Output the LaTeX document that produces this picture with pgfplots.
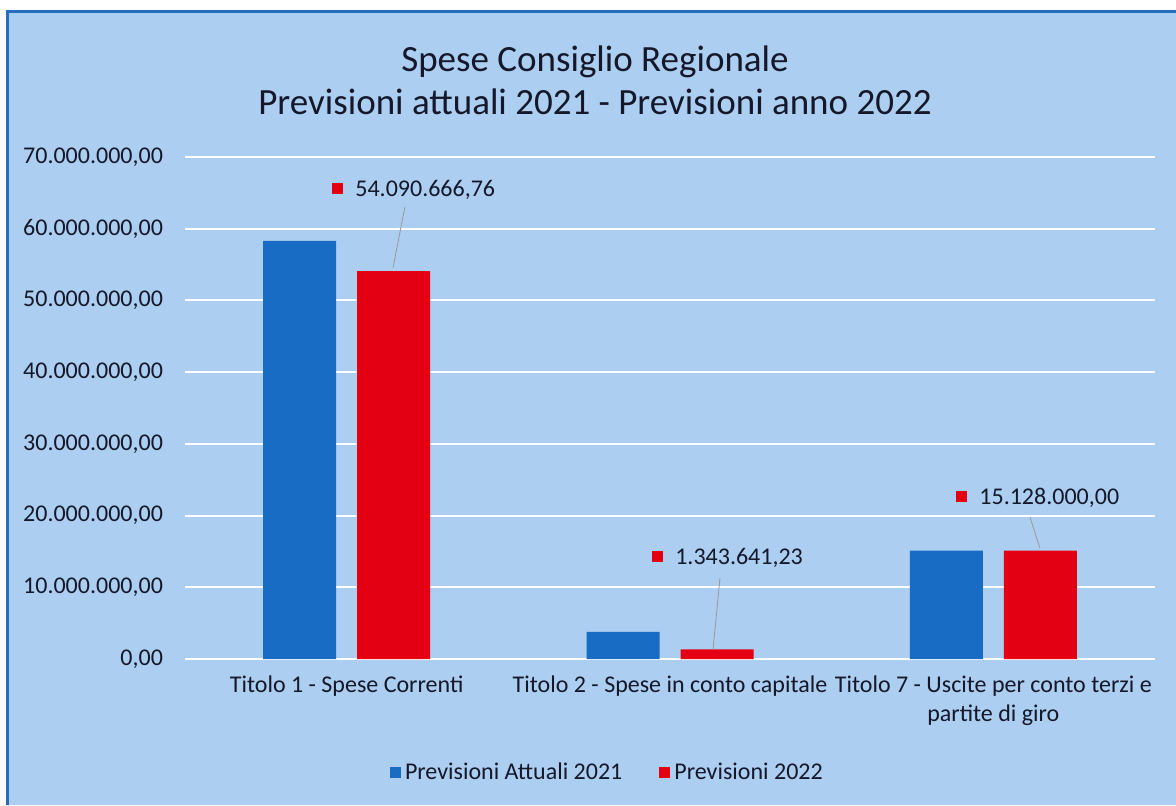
\documentclass[border=0pt]{standalone}
\usepackage{fontspec}
\setmainfont{Carlito}
\usepackage{pgfplots}
\pgfplotsset{compat=1.18}
\definecolor{bgblue}{RGB}{172,206,240}
\definecolor{frameblue}{RGB}{40,110,190}
\definecolor{barblue}{RGB}{24,108,196}
\definecolor{barred}{RGB}{228,0,18}
\definecolor{txt}{RGB}{20,24,42}
\newcommand{\rsq}{\textcolor{barred}{\rule[0.1em]{5.5pt}{5.5pt}}}
\begin{document}
\begin{tikzpicture}
\fill[white] (-92.5pt,-73pt) rectangle (495.5pt,329.5pt);
\fill[bgblue] (-89.5pt,-73pt) rectangle (495.5pt,324.5pt);
\draw[frameblue, line width=1.5pt] (-88.75pt,-73pt) -- (-88.75pt,323.75pt) -- (495.5pt,323.75pt);
\node[font=\fontsize{18.5}{21.5}\selectfont, align=center, text=txt] at (205pt,289.25pt)
  {Spese Consiglio Regionale\\Previsioni attuali 2021 - Previsioni anno 2022};
\begin{axis}[
  at={(0,0)}, anchor=south west,
  scale only axis, width=485pt, height=251pt,
  ybar=10.5pt, bar width=36.5pt,
  ymin=0, ymax=7e7, ytick={0,1e7,2e7,3e7,4e7,5e7,6e7,7e7},
  xmin=-0.5, xmax=2.5,
  xtick={0,1,2},
  xticklabels={Titolo 1 - Spese Correnti, Titolo 2 - Spese in conto capitale, {Titolo 7 - Uscite per conto terzi e\\partite di giro}},
  xticklabel style={align=center, font=\fontsize{12}{14.5}\selectfont, text=txt, yshift=-5pt},
  yticklabel style={font=\fontsize{12}{14}\selectfont, text=txt, xshift=-7.5pt},
  scaled y ticks=false,
  yticklabel={\pgfmathprintnumber[fixed, fixed zerofill, precision=2, use comma, 1000 sep={.}, assume math mode=true]{\tick}},
  axis line style={draw=none},
  major tick length=0pt,
  ymajorgrids, major grid style={white, line width=1pt},
  legend style={at={(0.4365,-0.227)}, anchor=center, legend columns=2, draw=none, fill=none,
    font=\fontsize{12}{14}\selectfont, text=txt,
    /tikz/every even column/.append style={column sep=16.5pt}},
  clip=false,
]
\addplot[fill=barblue, draw=none, legend image code/.code={\fill[barblue] (0pt,-2.75pt) rectangle (5.5pt,2.75pt);}]
  coordinates {(0,58300000) (1,3770000) (2,15128000)};
\addplot[fill=barred, draw=none, legend image code/.code={\fill[barred] (0pt,-2.75pt) rectangle (5.5pt,2.75pt);}]
  coordinates {(0,54090666.76) (1,1343641.23) (2,15128000)};
\legend{Previsioni Attuali 2021, Previsioni 2022}
\draw[gray!80, line width=0.4pt] (axis cs:0.180,6.303e7) -- (axis cs:0.1433,5.453e7);
\draw[gray!80, line width=0.4pt] (axis cs:1.1546,1.13e7) -- (axis cs:1.133,0.126e7);
\draw[gray!80, line width=0.4pt] (axis cs:2.1134,1.98e7) -- (axis cs:2.144,1.548e7);
\node[anchor=west, font=\fontsize{12}{14}\selectfont, text=txt, inner sep=0pt] at (axis cs:-0.0454,6.54e7) {\rsq\hspace{6pt}54.090.666,76};
\node[anchor=west, font=\fontsize{12}{14}\selectfont, text=txt, inner sep=0pt] at (axis cs:0.944,1.408e7) {\rsq\hspace{6pt}1.343.641,23};
\node[anchor=west, font=\fontsize{12}{14}\selectfont, text=txt, inner sep=0pt] at (axis cs:1.8846,2.245e7) {\rsq\hspace{6pt}15.128.000,00};
\end{axis}
\pgfresetboundingbox
\path (-92.5pt,-73pt) rectangle (495.5pt,329.5pt);
\end{tikzpicture}
\end{document}
